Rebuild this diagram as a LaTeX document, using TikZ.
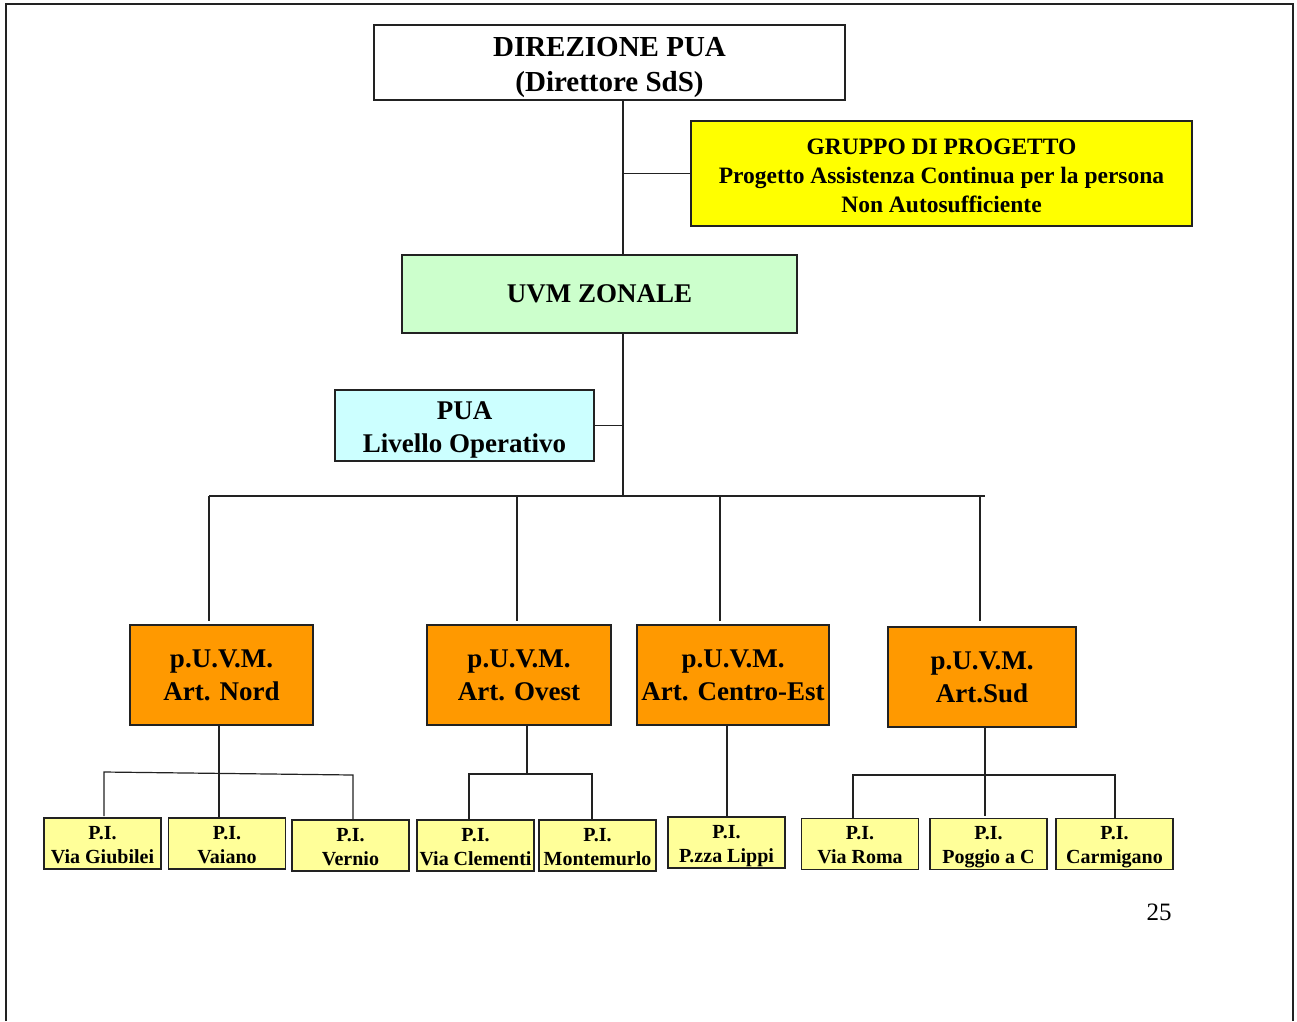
\documentclass[tikz,border=0pt]{standalone}
\usepackage{fontspec}
\setmainfont{Liberation Serif}
\usepackage{xcolor}
\definecolor{giallo}{HTML}{FFFF00}
\definecolor{verdino}{HTML}{CCFFCC}
\definecolor{azzurro}{HTML}{CCFFFF}
\definecolor{arancio}{HTML}{FF9900}
\definecolor{paglia}{HTML}{FFFF99}
\definecolor{bordo}{HTML}{222222}

\tikzset{
  orgbox/.style={draw=bordo, line width=1.2pt, inner sep=0pt, align=center, font=\bfseries},
  artbox/.style={orgbox, fill=arancio, minimum height=100pt, font=\bfseries\fontsize{27}{33}\selectfont},
  pibox/.style={orgbox, fill=paglia, minimum width=117pt, text height=45pt, text depth=6pt, font=\bfseries\fontsize{20}{24}\selectfont},
  linea/.style={draw=bordo, line width=1.2pt}
}

\begin{document}
\begin{tikzpicture}[x=1pt, y=-1pt] % coordinate in pixel, y verso il basso

		\useasboundingbox (0,0) rectangle (1297,1021);
		\draw[line width=2pt, bordo] (6,1021) -- (6,4) -- (1293,4) -- (1293,1021);

		% livelli superiori
		\node[orgbox, minimum width=471pt, text height=66pt, text depth=9pt, font=\bfseries\fontsize{29}{35}\selectfont]
		(dir) at (609.5,62.5) {DIREZIONE PUA\\(Direttore SdS)};
		\node[orgbox, fill=giallo, minimum width=501pt, text height=91pt, text depth=14pt, font=\bfseries\fontsize{23.5}{29}\selectfont]
		(grp) at (941.5,173.5) {GRUPPO DI PROGETTO\\Progetto Assistenza Continua per la persona\\Non Autosufficiente};
		\node[orgbox, fill=verdino, minimum width=395pt, minimum height=78pt, font=\bfseries\fontsize{27}{33}\selectfont]
		(uvm) at (599.5,294) {UVM ZONALE};
		\node[orgbox, fill=azzurro, minimum width=259pt, text height=62pt, text depth=9pt, font=\bfseries\fontsize{27}{33}\selectfont]
		(pua) at (464.5,425.5) {PUA\\Livello Operativo};

		% p.U.V.M.
		\node[artbox, minimum width=183pt] (nord) at (221.5,675) {p.U.V.M.\\Art. Nord};
		\node[artbox, minimum width=184pt] (ovest) at (519,675) {p.U.V.M.\\Art. Ovest};
		\node[artbox, minimum width=192pt] (centro) at (733,675) {p.U.V.M.\\Art. Centro-Est};
		\node[artbox, minimum width=188pt] (sud) at (982,677) {p.U.V.M.\\Art.Sud};

		% punti insieme
		\node[pibox] (giub) at (102.5,843.5) {P.I.\\Via Giubilei};
		\node[pibox] (vaiano) at (227,843.5) {P.I.\\Vaiano};
		\node[pibox] (vernio) at (350.5,845.5) {P.I.\\Vernio};
		\node[pibox] (clem) at (475.5,845.5) {P.I.\\Via Clementi};
		\node[pibox] (monte) at (597.5,845.5) {P.I.\\Montemurlo};
		\node[pibox] (lippi) at (726.5,842.5) {P.I.\\P.zza Lippi};
		\node[pibox] (roma) at (860,844) {P.I.\\Via Roma};
		\node[pibox] (poggio) at (988.5,844) {P.I.\\Poggio a C};
		\node[pibox] (carm) at (1114.5,844) {P.I.\\Carmigano};

		% collegamenti
		\coordinate (bus) at (623,496);
		\draw[linea] (bus |- dir.south) -- (bus |- uvm.north);
		\draw[linea] (grp.west) -- (grp.west -| bus);
		\draw[linea] (bus |- uvm.south) -- (bus);
		\draw[linea] (pua.east) -- (pua.east -| bus);
		\draw[linea] (209,496) -- (985,496);
		\foreach \x in {209,517,720,980}
		\draw[linea] (\x,496) -- (\x,621);

		\draw[linea] (219,725) -- (219,818);
		\draw[linea] (104,816) -- (104,772) -- (353,775) -- (353,820);
		\draw[linea] (527,725) -- (527,774);
		\draw[linea] (469,820) -- (469,774) -- (592,774) -- (592,820);
		\draw[linea] (727,725) -- (lippi.north -| 727,0);
		\draw[linea] (985,727) -- (985,816);
		\draw[linea] (853,819) -- (853,775) -- (1115,775) -- (1115,819);

		\node[font=\fontsize{25}{28}\selectfont] (pag) at (1159,912) {25};
		\end{tikzpicture}
\end{document}
